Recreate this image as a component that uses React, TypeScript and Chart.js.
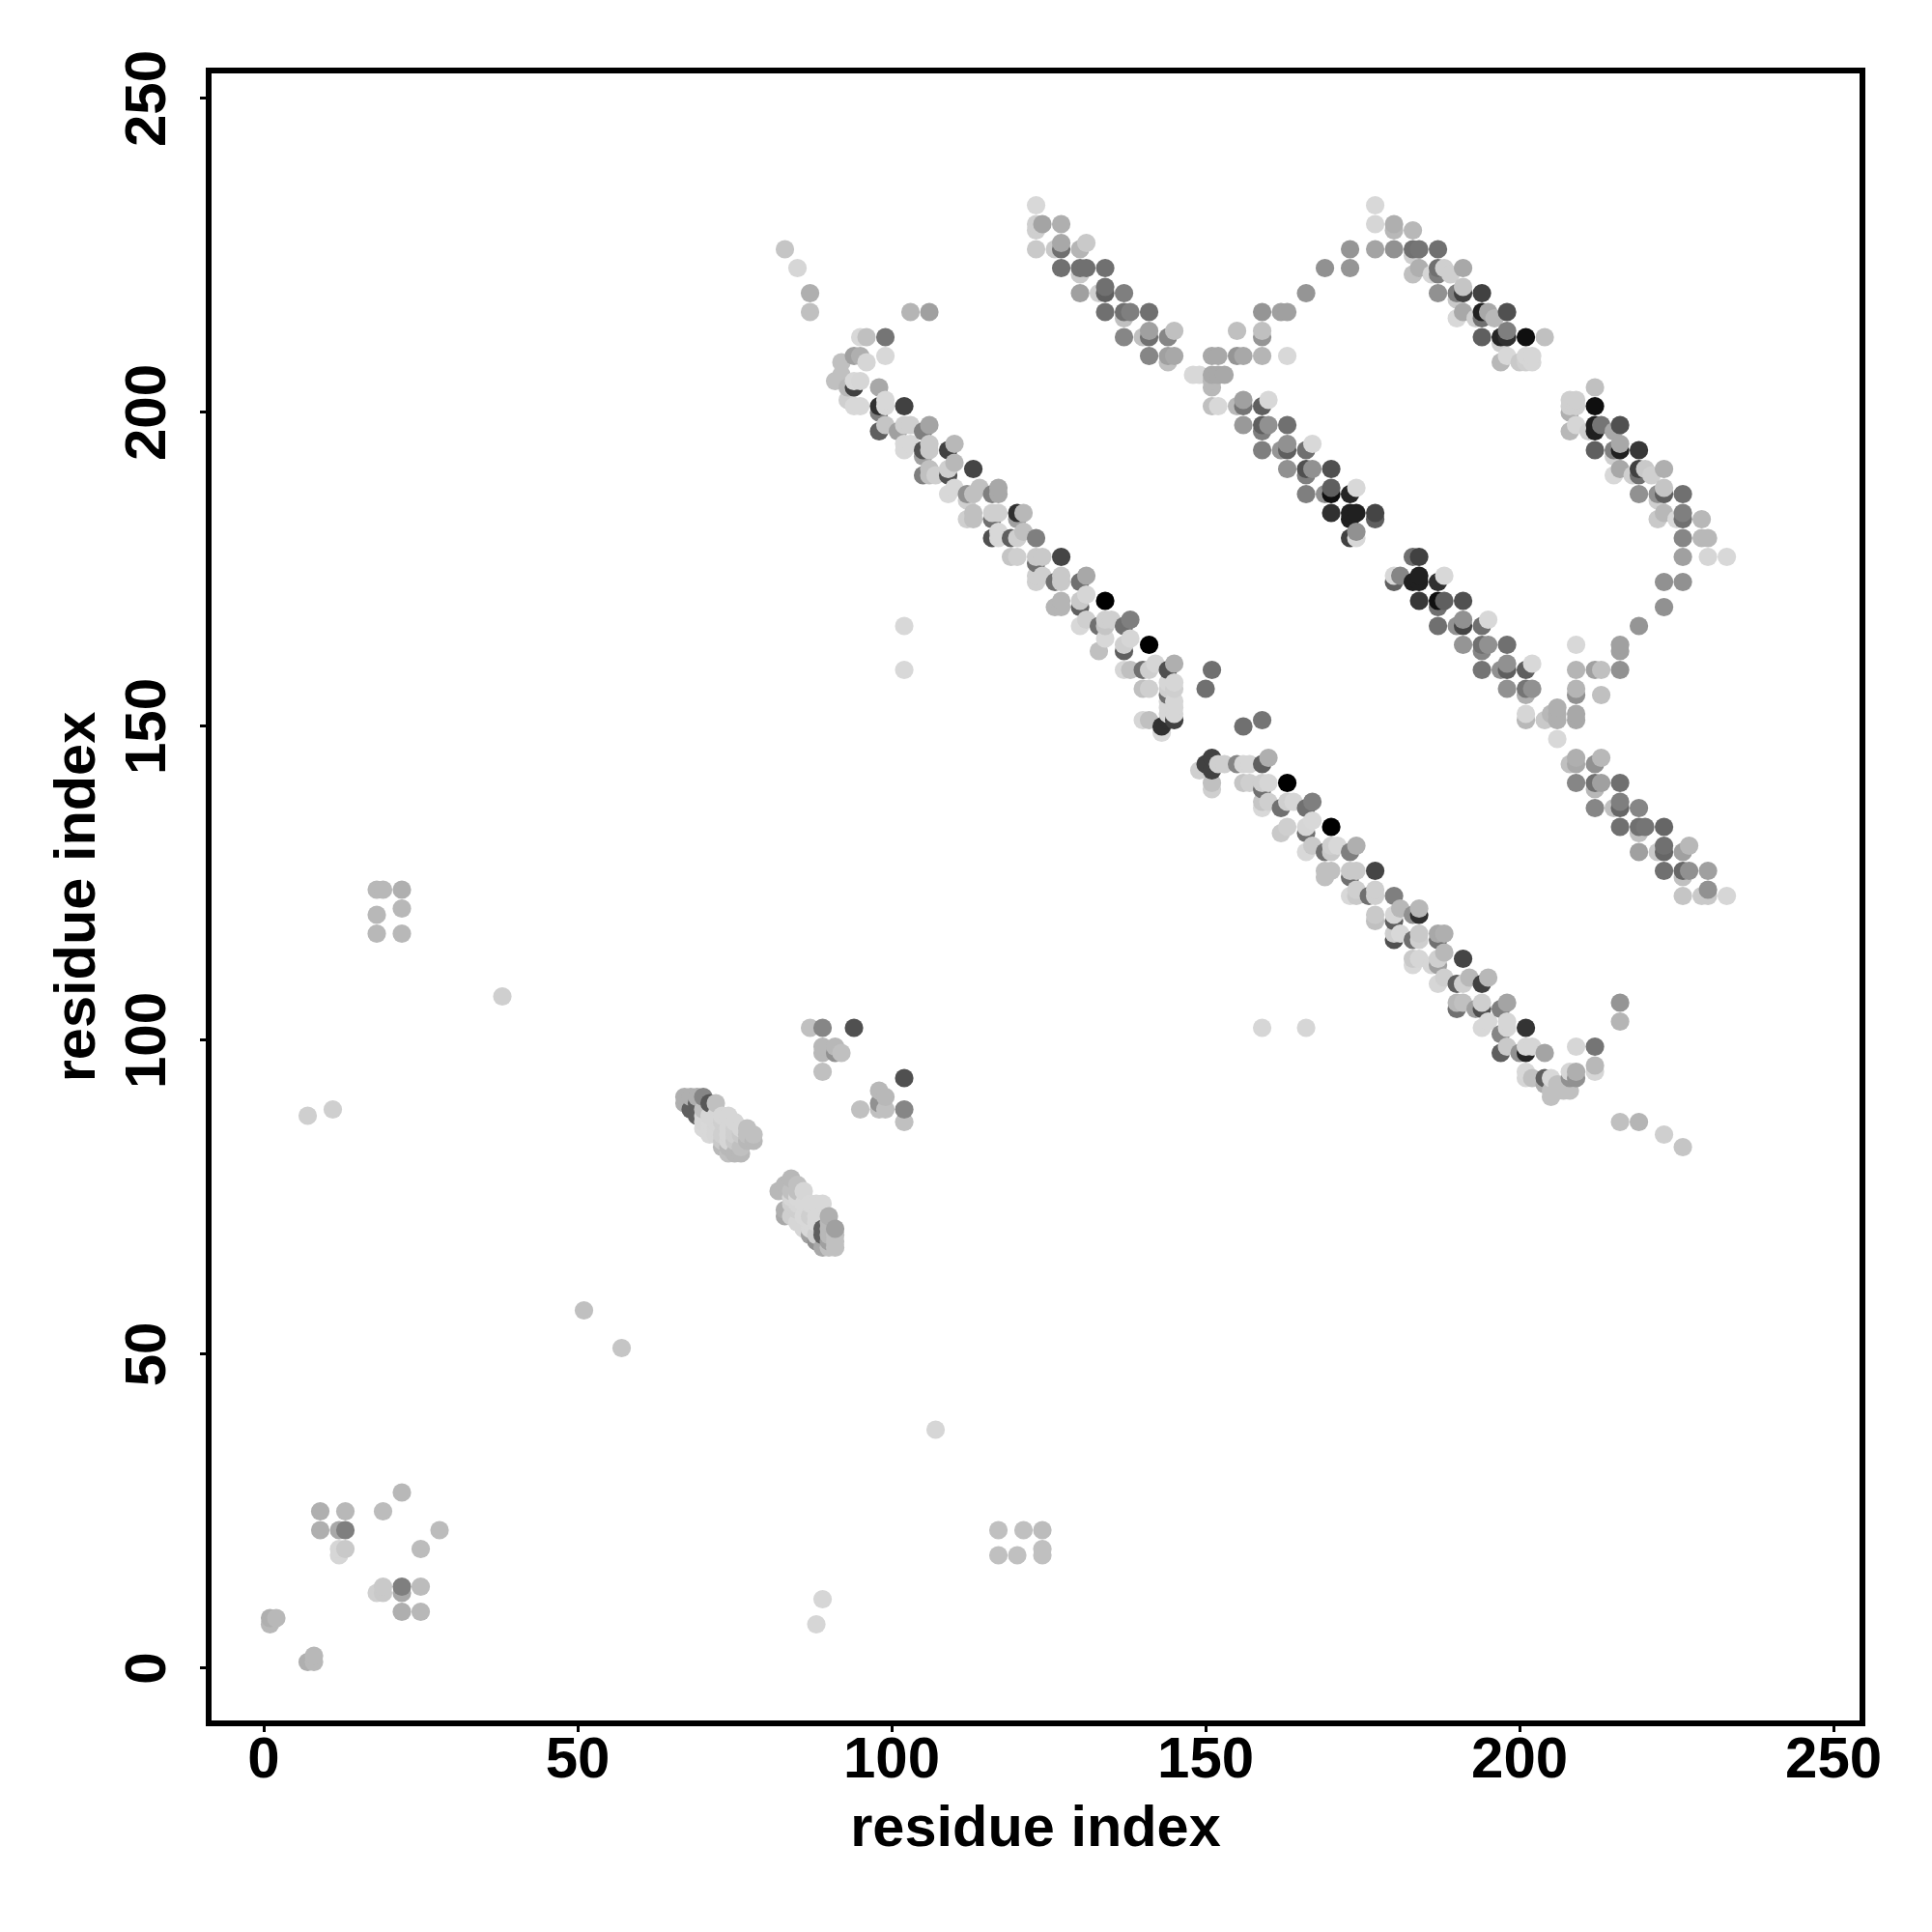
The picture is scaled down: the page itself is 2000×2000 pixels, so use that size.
import React, { useEffect, useRef } from "react";
import { Chart, registerables } from "chart.js";

Chart.register(...registerables);

// Each contact: [residue i, residue j, strength 0..100]
const lowerLeftContacts = [
  [1,8,19],[1,7,15],[2,8,15],[7,1,19],[8,1,15],[8,2,15],[9,25,19],[13,25,15],[9,22,19],[12,22,22],[13,22,41],
  [12,18,1],[12,19,1],[13,19,7],[22,28,15],[19,25,13],[28,22,13],[25,19,13],[18,12,4],[19,13,7],[19,12,7],
  [22,12,22],[22,13,41],[25,13,13],[22,9,19],[25,9,15],
];
const sparseContacts = [
  [18,124,15],[19,124,15],[22,124,19],[18,120,15],[22,121,15],[18,117,15],[22,117,15],[38,107,4],[7,88,4],[11,89,4],
  [51,57,11],[57,51,9],[107,38,1],[117,22,11],[121,22,11],[124,22,13],[117,18,11],[120,18,11],[124,19,11],[124,18,11],
  [89,11,1],[88,7,1],[102,166,0],[102,159,0],[159,102,1],[166,102,1],[216,106,31],[216,103,16],[216,87,11],[219,87,16],
  [223,85,4],[226,83,9],
];
const helixClusterA = [
  [67,91,19],[67,90,19],[68,91,19],[69,91,19],[70,91,38],[68,89,56],[69,90,56],[71,90,60],[72,90,11],[69,88,56],
  [70,87,1],[71,86,0],[70,86,0],[71,87,0],[74,88,1],[73,88,1],[73,84,7],[73,83,15],[74,84,1],[74,83,15],[76,86,1],
  [75,84,7],[77,86,11],[78,84,15],[77,84,15],[76,82,15],[76,83,11],[75,85,4],[72,86,1],[73,87,4],
  [70,89,11],[70,88,1],[71,88,1],[72,88,1],[72,87,1],[71,85,0],[72,85,1],[73,85,4],[74,86,1],[74,85,1],[75,86,4],
  [75,87,1],[76,85,7],[77,85,11],[78,85,11],[75,82,15],[74,82,11],
];
const helixClusterB = [
  [82,76,15],[83,77,15],[84,78,15],[85,77,11],[83,73,19],[83,72,22],[84,74,4],[86,76,1],[85,73,4],[85,71,1],[86,70,1],
  [88,74,0],[87,72,4],[88,69,4],[87,69,26],[88,68,33],[90,72,19],[89,69,56],[89,70,56],[90,67,11],[91,67,11],[91,68,11],
  [91,70,26],[89,67,22],[90,68,26],
  [84,75,1],[85,75,0],[86,74,0],[86,72,0],[87,74,0],[87,71,0],[87,70,0],[88,72,0],[88,71,0],[84,72,4],[85,74,1],[84,76,11],
  [85,76,11],[89,74,0],[90,71,15],[90,70,15],[90,69,15],[91,69,11],
];
const midClusters = [
  [87,102,11],[89,102,38],[94,102,63],[89,99,15],[89,98,15],[91,99,15],[92,98,11],[91,98,33],[89,95,11],
  [98,92,15],[99,91,15],[98,90,33],[95,89,11],[98,89,11],[99,89,11],[102,94,63],[102,89,38],[102,87,11],
];
const mainBandTop = [
  [83,226,9],[85,223,1],[87,219,19],[87,216,11],[103,216,16],[106,216,26],[99,212,46],[96,212,11],[95,212,0],
  [99,209,0],[94,209,26],[95,209,19],[96,208,1],[92,208,11],[91,205,11],[93,204,15],[94,204,70],[95,205,1],[94,205,0],
  [92,206,11],[98,204,22],[94,201,0],[95,201,0],[93,202,4],[98,201,78],[99,202,0],[99,201,0],[98,200,41],[102,201,70],
  [98,197,56],[99,198,9],[101,197,26],[102,198,4],[103,198,4],[102,195,0],[103,195,0],[102,194,0],[105,197,41],[106,198,24],
  [105,194,63],[105,193,26],[106,194,7],[106,195,7],[109,194,70],[110,195,15],[105,190,41],[106,190,11],[106,191,11],
  [109,190,63],[110,192,15],[109,191,4],[107,190,4],[113,191,68],[109,187,0],[110,188,0],[112,187,33],[113,187,11],
  [114,188,11],[112,186,4],[116,187,41],[117,188,22],[117,187,22],[113,184,11],[112,183,4],[113,183,11],[116,183,48],
  [116,184,4],[117,184,4],[120,184,78],[121,184,15],[120,183,26],[116,180,63],[117,181,0],[117,180,0],[119,180,56],
  [120,180,4],[121,181,11],[123,180,41],[119,177,9],[120,177,4],[123,177,7],[124,177,7],[127,177,68],[123,176,48],
  [123,174,4],[124,174,4],[123,173,4],[126,173,48],[127,174,7],[127,173,7],[130,173,48],[131,174,22],[126,169,16],
  [127,170,16],[127,169,16],[130,170,7],[131,171,1],[130,169,56],[134,170,100],[130,166,0],[131,167,4],[133,166,48],
  [134,166,9],[135,167,4],[134,167,4],[137,166,48],[138,167,41],[134,164,0],[133,162,11],[137,163,4],[138,164,1],
  [137,162,56],[141,163,100],
];
const mainBandMiddle = [
  [137,159,1],[138,159,11],[140,159,48],[141,159,4],[142,160,1],[144,159,63],[145,160,19],[140,156,11],[141,156,4],
  [144,155,48],[144,156,4],[145,156,4],[144,157,1],[145,157,1],[140,151,1],[141,151,11],[143,149,0],[143,150,78],[144,151,78],[145,151,70],
  [145,152,1],[144,152,1],[144,153,1],[145,153,1],[144,154,1],[145,154,1],[150,156,48],[151,159,48],[156,150,48],[159,151,46],[149,143,4],[150,144,70],[151,145,70],
  [151,143,70],[152,144,4],[153,144,4],[151,141,11],[151,140,4],[155,144,38],[156,144,1],[157,144,1],[159,144,56],
  [160,145,19],[156,141,9],[157,141,4],[159,141,4],[160,141,1],[159,140,48],[163,141,100],[159,137,0],[159,138,9],
  [160,138,4],[162,137,48],[163,138,4],[164,138,1],[166,137,48],[167,138,41],[162,133,7],[163,134,4],[166,133,48],
  [166,134,1],[167,135,0],[170,134,100],
];
const mainBandBottom = [
  [166,130,0],[167,131,7],[169,130,48],[170,131,4],[171,131,0],[170,130,7],[173,130,41],[174,131,19],[169,127,11],
  [170,127,11],[169,126,11],[173,127,7],[174,127,7],[173,126,48],[177,127,68],[173,123,0],[174,124,4],[174,123,7],
  [176,123,48],[177,124,4],[177,123,4],[180,123,41],[177,120,7],[177,119,11],[180,120,1],[180,119,56],[181,121,15],
  [183,120,33],[184,120,78],[184,121,15],[180,117,4],[180,116,63],[181,117,0],[183,116,48],[184,117,7],[184,116,4],
  [187,117,22],[188,117,19],[187,116,48],[183,113,7],[184,113,1],[183,112,0],[186,112,1],[187,112,26],[188,114,15],
  [187,113,4],[191,113,68],[187,109,1],[188,110,4],[190,109,56],[191,109,4],[192,110,15],[194,109,70],[195,110,15],
  [190,106,15],[190,105,48],[191,106,11],[193,105,26],[194,105,63],[194,106,4],[197,105,41],[198,106,24],[194,102,0],
  [195,103,0],[198,103,1],[197,101,38],[198,102,1],[201,102,76],[197,98,56],[198,99,7],[200,98,33],[201,98,83],
  [201,99,1],[202,99,1],[204,98,24],[201,95,0],[201,94,1],[202,94,11],[204,94,56],[204,93,19],[205,94,0],[205,91,11],
  [205,92,11],[206,93,11],[206,92,11],[207,92,11],[207,93,11],[208,92,11],[208,95,1],[208,94,33],[209,94,33],[209,95,19],[209,99,1],[212,99,46],[212,96,15],
  [212,95,1],
];
const upperBandTop = [
  [123,233,0],[123,230,4],[123,229,4],[124,230,24],[127,230,19],[123,226,7],[126,226,7],[127,226,48],[127,227,22],
  [130,226,16],[131,227,7],[127,223,48],[130,223,48],[131,223,48],[134,223,48],[130,222,7],[130,219,26],[133,219,4],
  [134,220,48],[134,219,56],[137,219,41],[134,216,48],[137,216,48],[138,216,41],[137,215,11],[141,216,48],[137,212,38],
  [140,212,11],[141,213,26],[141,212,48],[144,212,38],[145,213,11],[141,209,38],[144,209,26],[145,209,22],[144,208,11],
  [148,206,0],[149,206,0],[151,209,22],[152,209,22],[155,209,31],[156,209,22],[159,209,16],[163,209,0],[151,206,22],
  [152,206,22],[153,206,22],[151,204,15],[151,205,15],[151,201,11],[152,201,0],[155,213,11],[159,216,31],[159,213,11],
  [159,212,31],[162,216,26],[163,216,26],[166,219,31],[169,223,33],[173,223,31],[173,226,31],
];
const upperBandCrest = [
  [177,226,24],[180,226,33],[183,226,48],[184,226,46],[187,226,48],[177,233,0],[177,230,1],[180,230,19],[180,229,15],
  [183,229,15],[183,222,11],[184,223,19],[183,225,4],[186,222,1],[187,223,48],[187,222,41],[188,223,4],[191,223,22],
  [189,222,4],[187,219,33],[190,219,41],[191,219,70],[191,220,9],[190,218,7],[194,219,70],[190,215,0],[191,216,22],
  [193,215,4],[194,216,85],[194,215,48],[195,216,22],[196,215,15],[198,216,63],[194,212,56],[197,212,83],[198,212,78],
  [198,213,41],[201,212,93],[204,212,11],[197,208,15],[197,211,4],[198,209,0],[200,208,7],[201,208,4],[202,208,1],
  [202,209,1],[201,209,1],
];
const middleBand = [
  [155,201,15],[156,202,26],[156,201,46],[159,201,56],[160,202,0],[156,198,29],[159,198,56],[159,197,41],[160,198,33],
  [163,198,48],[159,194,41],[162,194,31],[163,195,33],[163,194,56],[166,194,48],[167,195,0],[163,191,33],[166,191,63],
  [166,190,41],[167,191,33],[170,191,63],[166,187,41],[169,187,33],[170,187,93],[170,188,56],[173,187,83],[174,188,0],
  [170,184,78],[173,184,85],[173,183,85],[174,184,85],[177,184,68],[177,183,56],[173,180,70],[174,181,33],[174,180,0],
  [183,177,48],[184,177,70],[180,173,56],[180,174,0],[181,174,38],[183,173,85],[184,174,85],[184,173,85],[187,173,78],
  [188,174,0],[184,170,74],[187,170,93],[188,170,56],[187,169,48],[191,170,63],[187,166,48],[190,166,33],[191,167,33],
  [191,166,68],[194,166,48],[195,167,0],[191,163,31],[194,163,48],[194,162,38],[195,163,33],[198,163,48],[194,159,46],
  [197,159,33],[198,160,33],[198,159,56],[201,159,56],[202,160,0],[198,156,33],[201,156,46],[201,155,19],[202,156,33],
  [201,152,1],[201,151,15],[204,151,7],[205,152,15],[206,153,19],[206,152,19],[206,151,19],[206,148,0],[209,152,22],
  [209,151,22],[209,156,16],[209,155,33],[209,159,16],[209,163,0],[212,159,26],[213,159,11],[216,159,33],[213,155,11],
];
const rightBandTop = [
  [212,204,11],[212,201,93],[208,202,4],[209,202,4],[208,201,4],[209,201,4],[208,200,19],[208,197,15],[209,198,1],
  [211,197,4],[212,198,85],[212,197,85],[213,198,46],[216,198,63],[215,197,22],[212,194,56],[215,194,41],[216,194,85],
  [216,195,22],[219,194,74],[215,193,4],[215,190,0],[216,191,22],[218,190,4],[219,191,70],[219,190,48],[220,191,7],
  [223,191,19],[221,190,4],[219,187,33],[222,187,33],[223,188,9],[223,187,56],[222,186,4],[226,187,48],[222,183,7],
  [223,184,15],[225,183,0],[226,184,41],[226,183,48],[229,183,15],[226,180,38],[229,180,15],[230,180,15],[226,177,26],
  [230,177,1],[233,177,0],[223,173,33],[226,173,33],[223,169,33],[219,166,31],[216,163,26],[216,162,26],
];
const rightBandBottom = [
  [208,144,11],[209,145,19],[209,144,22],[212,144,33],[213,145,15],[209,141,38],[212,141,48],[212,140,15],[213,141,26],
  [216,141,48],[212,137,38],[215,137,11],[216,138,41],[216,137,53],[219,137,38],[216,134,48],[219,134,48],[220,134,46],
  [219,133,11],[223,134,53],[219,130,26],[222,130,7],[223,131,48],[223,130,53],[226,130,26],[227,131,15],[223,127,48],
  [226,127,53],[227,127,33],[226,126,11],[230,127,26],[226,123,9],[229,123,7],[230,123,7],[230,124,33],[233,123,1],
];

const tickValues = [0, 50, 100, 150, 200, 250];
const axisLabel = "residue index";

const allContacts = [
  ...lowerLeftContacts, ...sparseContacts, ...helixClusterA, ...helixClusterB, ...midClusters,
  ...mainBandTop, ...mainBandMiddle, ...mainBandBottom, ...upperBandTop, ...upperBandCrest,
  ...middleBand, ...rightBandTop, ...rightBandBottom,
].sort((a, b) => a[0] - b[0] || a[1] - b[1]);

const shade = (s: number) => {
  const g = Math.round(216 * (1 - s / 100));
  return `rgb(${g},${g},${g})`;
};

const framePlugin = {
  id: "frame",
  afterDraw(chart: any) {
    const { ctx, chartArea: a } = chart;
    ctx.save();
    ctx.strokeStyle = "#000";
    ctx.lineWidth = 6;
    ctx.lineJoin = "miter";
    ctx.strokeRect(a.left, a.top, a.right - a.left, a.bottom - a.top);
    ctx.restore();
  },
};

const FONT = "'Liberation Sans', Arial, sans-serif";

export default function App() {
  const ref = useRef<HTMLCanvasElement>(null);
  useEffect(() => {
    const chart = new Chart(ref.current!, {
      type: "scatter",
      data: {
        datasets: [
          {
            data: allContacts.map(([x, y]) => ({ x, y })),
            pointRadius: 9.6,
            pointHoverRadius: 9.6,
            pointBorderWidth: 0,
            pointBackgroundColor: allContacts.map((c) => shade(c[2])),
          },
        ],
      },
      options: {
        responsive: false,
        animation: false,
        devicePixelRatio: 1,
        layout: { padding: { top: 73, right: 72, left: 0, bottom: 0 } },
        plugins: { legend: { display: false }, tooltip: { enabled: false } },
        scales: {
          x: {
            type: "linear",
            min: -8.77,
            max: 254.6,
            afterBuildTicks: (s: any) => { s.ticks = tickValues.map((value) => ({ value })); },
            afterFit: (s: any) => { s.height = 216; },
            border: { display: false },
            grid: { drawOnChartArea: false, drawTicks: true, tickLength: 9, tickWidth: 3, tickColor: "#000" },
            ticks: { color: "#000", maxRotation: 0, minRotation: 0, padding: -6, font: { family: FONT, weight: "bold", size: 60 } },
            title: { display: true, text: axisLabel, color: "#000", font: { family: FONT, weight: "bold", size: 59.5 }, padding: { top: 0, bottom: 70 } },
          },
          y: {
            type: "linear",
            min: -8.77,
            max: 254.46,
            afterBuildTicks: (s: any) => { s.ticks = tickValues.map((value) => ({ value })); },
            afterFit: (s: any) => { s.width = 216; },
            border: { display: false },
            grid: { drawOnChartArea: false, drawTicks: true, tickLength: 9, tickWidth: 3, tickColor: "#000" },
            ticks: { color: "#000", minRotation: 90, maxRotation: 90, crossAlign: "center", padding: 2, font: { family: FONT, weight: "bold", size: 60 } },
            title: { display: true, text: axisLabel, color: "#000", font: { family: FONT, weight: "bold", size: 59.5 }, padding: { top: 46, bottom: 0 } },
          },
        },
      } as any,
      plugins: [framePlugin],
    });
    return () => chart.destroy();
  }, []);
  return (
    <canvas
      ref={ref}
      width={2000}
      height={2000}
      style={{ display: "block", position: "absolute", left: 0, top: 0, background: "#fff" }}
    />
  );
}
